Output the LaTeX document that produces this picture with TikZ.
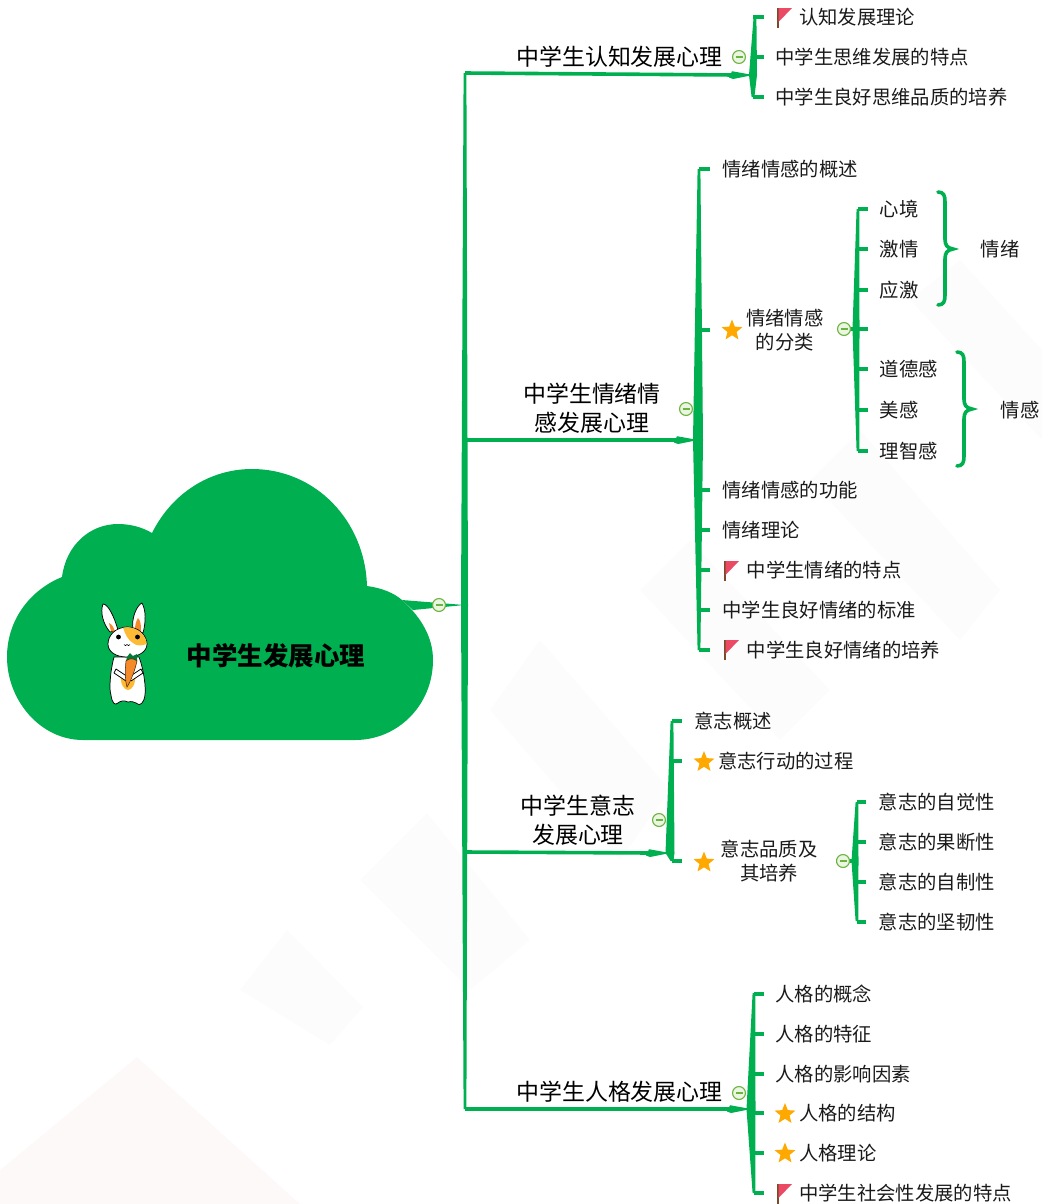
\documentclass[tikz,border=0pt]{standalone}
\usepackage{fontspec}
\setmainfont{Noto Sans CJK SC}
\usetikzlibrary{calc,shapes.geometric}
\definecolor{mgreen}{HTML}{00AF50}
\definecolor{mtext}{HTML}{1A1A1A}
\definecolor{mstar}{HTML}{FFA800}
\definecolor{mflag}{HTML}{EC4A64}
\definecolor{mpole}{HTML}{7A4A2A}
\definecolor{mcarrot}{HTML}{F58A2A}
\definecolor{mpatch}{HTML}{FDBB35}
\definecolor{mwater}{HTML}{FCFCFC}
\definecolor{mwaterb}{HTML}{FDF9F8}
\definecolor{mcirc}{HTML}{EAF5E2}
\definecolor{mcircline}{HTML}{6DB33F}
\tikzset{
  branchfill/.style={fill=mgreen,draw=none},
  bline/.style={draw=mgreen,line width=2.7pt},
  tick/.style={draw=mgreen,line width=2.8pt},
  bracepath/.style={draw=mgreen,line width=2.7pt,line cap=round},
  leaf/.style={anchor=west,inner xsep=0pt,inner ysep=0pt,yshift=-.1pt,text=mtext,font=\fontsize{14.5}{18}\selectfont},
  title/.style={inner sep=0pt,align=center,text=black,yshift=-.3pt,font=\fontsize{17.2}{21.5}\selectfont},
  roottext/.style={inner sep=0pt,text=black,font=\fontsize{19.1}{22}\selectfont\bfseries},
  collapse/.style={circle,draw=mcircline,line width=.85pt,fill=mcirc,minimum size=9.7pt,inner sep=0pt},
  minusbar/.style={draw=mcircline,line width=1.1pt},
  staricon/.style={star,star points=5,star point ratio=2.3,fill=mstar,draw=none,minimum size=16.5pt,inner sep=0pt},
  ink/.style={draw=black,line width=.55pt,line join=round},
}
\newcommand{\tspine}[4]{\fill[branchfill] ($(#1)+(-1.4,0)$) -- ($(#2)+(-#4,0)$) -- ($(#3)+(-1.4,0)$) -- ($(#3)+(1.4,0)$) -- ($(#2)+(#4,0)$) -- ($(#1)+(1.4,0)$) -- cycle;}
\newcommand{\barrow}[2]{\draw[bline] (#1) -- ($(#2)+(-18,0)$);
  \fill[branchfill] ($(#2)+(-24,2.5)$) -- ($(#2)+(-21,-3.8)$) -- (#2) -- ($(#2)+(-20,4)$) -- cycle;}
\newcommand{\collapsemark}[2]{\node[collapse] (#1) at (#2) {};
  \draw[minusbar] ($(#1.center)+(-3.5,0)$) -- ($(#1.center)+(3.5,0)$);}
\newcommand{\flagicon}[1]{\draw[mpole,line width=.8pt] ($(#1)+(-7,-10)$) -- ($(#1)+(-7,10)$);
  \fill[mflag] ($(#1)+(-6.5,-10)$) -- ($(#1)+(7,-10)$) -- ($(#1)+(-6.5,4)$) -- cycle;}
\newcommand{\rightbrace}[4]{\draw[bracepath] (#1-7,#2) .. controls (#1-1,#2) and (#1,#2+4) .. (#1,#2+10) -- (#1,#3-10) .. controls (#1,#3-4) and (#1+2,#3-1) .. (#1+8,#3) .. controls (#1+2,#3+1) and (#1,#3+4) .. (#1,#3+10) -- (#1,#4-10) .. controls (#1,#4-4) and (#1-1,#4) .. (#1-7,#4);}
\begin{document}
\begin{tikzpicture}[x=0.75pt,y=-0.75pt]
\useasboundingbox (0,0) rectangle (1042,1204);
% faint watermark
\begin{scope}
\fill[mwaterb] (137,1057) -- (300,1204) -- (0,1204) -- (0,1170) -- cycle;
\fill[mwater] (287,930) -- (363,1007) -- (330,1045) -- (240,990) -- cycle;
\fill[mwater] (427,813) -- (530,940) -- (470,990) -- (360,880) -- cycle;
\fill[mwater] (540,640) -- (670,790) -- (620,860) -- (490,710) -- cycle;
\fill[mwater] (690,540) -- (830,690) -- (780,740) -- (640,590) -- cycle;
\fill[mwater] (860,430) -- (1000,590) -- (960,640) -- (810,480) -- cycle;
\fill[mwater] (960,260) -- (1042,350) -- (1042,440) -- (910,300) -- cycle;
\end{scope}

% central topic: cloud
\coordinate (cloudA) at (402,600);
\coordinate (cloudB) at (413,610);
\fill[mgreen] (83,740) .. controls (40,740) and (7,700) .. (7,657)
  .. controls (7,620) and (30,590) .. (62,577)
  .. controls (66,545) and (90,524) .. (118,524)
  .. controls (130,524) and (142,527) .. (152,533)
  .. controls (172,493) and (210,469) .. (252,469)
  .. controls (315,469) and (365,520) .. (367,586)
  .. controls (382,588) and (394,593) .. (402,600)
  .. controls (422,618) and (433,638) .. (433,660)
  .. controls (433,705) and (398,740) .. (355,740) -- cycle;
\node[roottext] (root) at (276,656) {中学生发展心理};

% rabbit
\begin{scope}
\path[ink,fill=white] (110,632) .. controls (103,624) and (100,612) .. (103,604) .. controls (108,604) and (114,616) .. (118,630) -- cycle;
\path[ink,fill=white] (133,630) .. controls (131,618) and (137,605) .. (142,603) .. controls (146,610) and (146,622) .. (143,633) -- cycle;
\fill[mcarrot] (109,623) .. controls (112,624) and (114,628) .. (115,632) -- (111,631) -- cycle;
\fill[mcarrot] (138,618) .. controls (141,621) and (141,626) .. (141,631) -- (135,630) .. controls (135,625) and (136,621) .. (138,618) -- cycle;
\path[ink,fill=white] (114,657) .. controls (110,672) and (109,690) .. (111,695) .. controls (112,703) and (115,706) .. (118,703) .. controls (120,701) and (124,700) .. (128,702) .. controls (132,701) and (134,702) .. (136,703) .. controls (140,707) and (144,703) .. (145,695) .. controls (146,688) and (144,670) .. (139,657) -- cycle;
\fill[mpatch] (121,675) .. controls (120,684) and (124,690) .. (128,690) .. controls (132,690) and (136,684) .. (135,675) -- cycle;
\path[ink,fill=white] (127.5,627) .. controls (139,627) and (147,636) .. (147,644) .. controls (147,652) and (138,657) .. (127,657) .. controls (116,657) and (108,652) .. (108,644) .. controls (108,635) and (116,627) .. (127.5,627) -- cycle;
\fill[mpatch] (123,627.6) .. controls (125,634) and (128,640) .. (133,643) .. controls (136,646) and (142,646) .. (146.6,644) .. controls (146.5,636) and (138,627.6) .. (128,627.2) -- cycle;
\fill[black] (118.5,637) circle (2.4);
\fill[black] (137.5,637) circle (2.4);
\draw[black,line width=.4pt] (124,644.5) .. controls (125,646) and (126,646) .. (127,644.5) .. controls (128,646) and (129,646) .. (130,644.5);
\path[ink,fill=white] (116,669) -- (128,677) -- (126,681) -- (114,673) -- cycle;
\path[ink,fill=white] (141,669) -- (129,677) -- (131,681) -- (143,673) -- cycle;
\fill[mgreen!70!black] (127,657) -- (130,653) -- (133,656) -- (137,654) -- (137,661) -- (126,661) -- cycle;
\path[draw=black!70!mcarrot,line width=.4pt,fill=mcarrot] (126,661) .. controls (129,658) and (134,658) .. (137,661) .. controls (135,670) and (131,681) .. (127,687) .. controls (125,680) and (125,670) .. (126,661) -- cycle;
\end{scope}

% main spine
\coordinate (m0) at (464.5,605);
\coordinate (m1) at (465,73);
\coordinate (m2) at (465,440);
\coordinate (m3) at (465,852);
\coordinate (m4) at (465,1109);
\tspine{m1}{m0}{m4}{3.5}
\fill[branchfill] (cloudA) -- (m0) -- (cloudB) -- cycle;
\collapsemark{cr}{439,605}

% ---- branch 1
\coordinate (h1) at (753,75);
\coordinate (s1t) at (755,17);
\coordinate (s1b) at (753,97);
\barrow{m1}{h1}
\tspine{s1t}{h1}{s1b}{4}
\node[title] (t1) at (619.5,56) {中学生认知发展心理};
\collapsemark{c1}{739,57}
\node[leaf] (a1) at (764,17) {\hspace*{26.2pt}认知发展理论};
\node[leaf] (a2) at (764,57) {\hspace*{8.5pt}中学生思维发展的特点};
\node[leaf] (a3) at (764,97) {\hspace*{8.5pt}中学生良好思维品质的培养};
\foreach \n in {a1,a2,a3}{\draw[tick] (s1b |- \n.west) -- (\n.west);}
\flagicon{785,18}

% ---- branch 2
\coordinate (h2) at (698,440);
\coordinate (s2t) at (699,169);
\coordinate (s2b) at (699,650);
\barrow{m2}{h2}
\tspine{s2t}{h2}{s2b}{5}
\node[title] (t2) at (592,407.5) {中学生情绪情\\感发展心理};
\collapsemark{c2}{686,409}
\node[leaf] (b1) at (710,169) {\hspace*{9.2pt}情绪情感的概述};
\node[leaf] (b2) at (710,330) {\hspace*{27pt}\begin{tabular}{@{}c@{}}\raisebox{-2.2pt}{情绪情感}\\\raisebox{-2.2pt}{的分类}\end{tabular}};
\node[leaf] (b3) at (710,490) {\hspace*{9.2pt}情绪情感的功能};
\node[leaf] (b4) at (710,530) {\hspace*{9.2pt}情绪理论};
\node[leaf] (b5) at (710,570) {\hspace*{27.5pt}中学生情绪的特点};
\node[leaf] (b6) at (710,610) {\hspace*{9.2pt}中学生良好情绪的标准};
\node[leaf] (b7) at (710,650) {\hspace*{27.5pt}中学生良好情绪的培养};
\foreach \n in {b1,b2,b3,b4,b5,b6,b7}{\draw[tick] (s2b |- \n.west) -- (\n.west);}
\node[staricon] (sb2) at (732,330.5) {};
\flagicon{732,571}
\flagicon{732,650}

% sub branch 2
\coordinate (h22) at (856,329);
\coordinate (s22t) at (858,209);
\coordinate (s22b) at (858,451);
\draw[tick] (838,329) -- (h22);
\tspine{s22t}{h22}{s22b}{3.5}
\collapsemark{c22}{844,329}
\node[leaf] (d1) at (868,209) {\hspace*{8.7pt}心境};
\node[leaf] (d2) at (868,249) {\hspace*{8.7pt}激情};
\node[leaf] (d3) at (868,290) {\hspace*{8.7pt}应激};
\coordinate (d0) at (868,329);
\node[leaf] (d4) at (868,369) {\hspace*{8.7pt}道德感};
\node[leaf] (d5) at (868,410) {\hspace*{8.7pt}美感};
\node[leaf] (d6) at (868,451) {\hspace*{8.7pt}理智感};
\foreach \n/\y in {d1,d2,d3,d4,d5,d6}{\draw[tick] (s22b |- \n.west) -- (\n.west);}
\draw[tick] (s22b |- d0) -- (d0);
\rightbrace{945}{192}{249}{305}
\rightbrace{964}{352}{409}{466}
\node[leaf,anchor=center] (e1) at (1000,249) {情绪};
\node[leaf,anchor=center] (e2) at (1020,410) {情感};

% ---- branch 3
\coordinate (h3) at (670,853);
\coordinate (s3t) at (672,721);
\coordinate (s3b) at (672,861);
\barrow{m3}{h3}
\tspine{s3t}{h3}{s3b}{4.5}
\node[title] (t3) at (578,820) {中学生意志\\发展心理};
\collapsemark{c3}{659,820}
\node[leaf] (f1) at (682,721) {\hspace*{9.2pt}意志概述};
\node[leaf] (f2) at (682,761) {\hspace*{27pt}意志行动的过程};
\node[leaf] (f3) at (682,861) {\hspace*{29pt}\begin{tabular}{@{}c@{}}\raisebox{-2.2pt}{意志品质及}\\\raisebox{-2.2pt}{其培养}\end{tabular}};
\foreach \n in {f1,f2,f3}{\draw[tick] (s3b |- \n.west) -- (\n.west);}
\node[staricon] (sf2) at (704,762) {};
\node[staricon] (sf3) at (704,862.5) {};

% sub branch 3
\coordinate (h32) at (855,861);
\coordinate (s32t) at (857,802);
\coordinate (s32b) at (857,921);
\draw[tick] (836,861) -- (h32);
\tspine{s32t}{h32}{s32b}{3.5}
\collapsemark{c32}{843,861}
\node[leaf] (g1) at (866,802) {\hspace*{9.5pt}意志的自觉性};
\node[leaf] (g2) at (866,842) {\hspace*{9.5pt}意志的果断性};
\node[leaf] (g3) at (866,882) {\hspace*{9.5pt}意志的自制性};
\node[leaf] (g4) at (866,921.5) {\hspace*{9.5pt}意志的坚韧性};
\foreach \n in {g1,g2,g3,g4}{\draw[tick] (s32b |- \n.west) -- (\n.west);}

% ---- branch 4
\coordinate (h4) at (751,1109);
\coordinate (s4t) at (754,993);
\coordinate (s4b) at (754,1193);
\barrow{m4}{h4}
\tspine{s4t}{h4}{s4b}{4.5}
\node[title] (t4) at (619.5,1091) {中学生人格发展心理};
\collapsemark{c4}{739,1093}
\node[leaf] (k1) at (764,993.5) {\hspace*{8.5pt}人格的概念};
\node[leaf] (k2) at (764,1034) {\hspace*{8.5pt}人格的特征};
\node[leaf] (k3) at (764,1074) {\hspace*{8.5pt}人格的影响因素};
\node[leaf] (k4) at (764,1113) {\hspace*{26.2pt}人格的结构};
\node[leaf] (k5) at (764,1153) {\hspace*{26.2pt}人格理论};
\node[leaf] (k6) at (764,1193) {\hspace*{26.2pt}中学生社会性发展的特点};
\foreach \n in {k1,k2,k3,k4,k5,k6}{\draw[tick] (s4b |- \n.west) -- (\n.west);}
\node[staricon] (sk4) at (785,1114) {};
\node[staricon] (sk5) at (785,1153.5) {};
\flagicon{785,1194}
\end{tikzpicture}
\end{document}
